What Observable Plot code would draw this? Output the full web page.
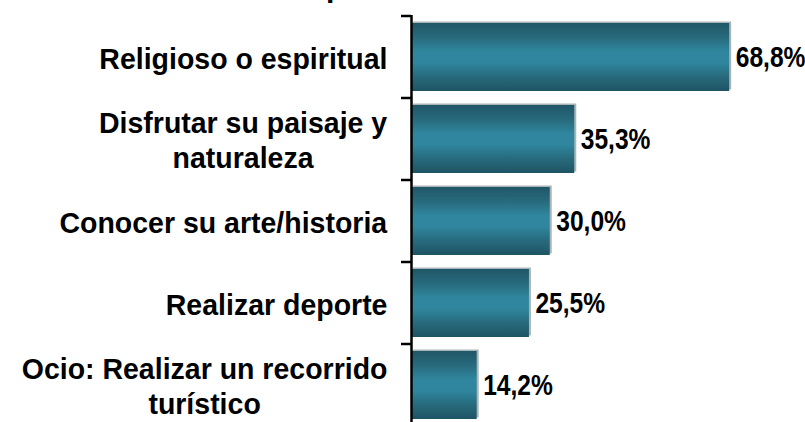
<!DOCTYPE html>
<html><head><meta charset="utf-8">
<script src="https://cdn.jsdelivr.net/npm/d3@7"></script>
<script src="https://cdn.jsdelivr.net/npm/@observablehq/plot@0.6"></script>
<style>
body{margin:0;background:#fff;overflow:hidden}
#wrap{position:relative;width:805px;height:422px;overflow:hidden;background:#fff}
#title{position:absolute;left:326px;top:-28px;font:bold 30px "Liberation Sans",Arial,sans-serif;line-height:30px;white-space:nowrap;color:#000}
#wrap svg{position:absolute;left:0;top:0}
</style></head><body><div id="wrap"><div id="title">p</div></div>
<script>
const categories = ["Religioso o espiritual", "Disfrutar su paisaje y\nnaturaleza", "Conocer su arte/historia", "Realizar deporte", "Ocio: Realizar un recorrido\nturístico"];
const values = [68.8, 35.3, 30.0, 25.5, 14.2];
const valueLabels = ["68,8%", "35,3%", "30,0%", "25,5%", "14,2%"];

const data = categories.map((c, i) => ({cat: c, value: values[i], label: valueLabels[i]}));
const FONT = '"Liberation Sans",Arial,sans-serif';

function gradientDefs() {
  const defs = d3.create("svg:defs");
  const lg = defs.append("linearGradient").attr("id", "barGrad").attr("x1", 0).attr("y1", 0).attr("x2", 0).attr("y2", 1);
  [[0, "#1f5767"], [0.2, "#27697b"], [0.42, "#2f869e"], [0.58, "#2f869e"], [0.8, "#27697b"], [1, "#1e5464"]]
    .forEach(([o, c]) => lg.append("stop").attr("offset", o).attr("stop-color", c));
  return defs.node();
}

function boundaryTicks(index, scales) {
  const y = scales.y, x = scales.x;
  const bw = y.bandwidth ? y.bandwidth() : 0;
  const step = y.step ? y.step() : bw;
  const x0 = x(0);
  const g = d3.create("svg:g");
  for (const c of categories) {
    const yy = y(c) - (step - bw) / 2;
    g.append("line").attr("x1", x0 - 10).attr("x2", x0).attr("y1", yy).attr("y2", yy)
      .attr("stroke", "#000").attr("stroke-width", 2.5);
  }
  return g.node();
}

const plot = Plot.plot({
  width: 805,
  height: 422,
  marginLeft: 411,
  marginRight: 24,
  marginTop: 15,
  marginBottom: 0,
  style: {background: "transparent", overflow: "visible"},
  x: {domain: [0, 80], axis: null},
  y: {type: "band", domain: categories, range: [15, 427.5], paddingInner: 0.17, paddingOuter: 0.085, axis: null},
  marks: [
    gradientDefs,
    Plot.barX(data, {x: "value", y: "cat", fill: "#a9b5b8", dx: 2, dy: -1.5}),
    Plot.barX(data, {x: "value", y: "cat", fill: "url(#barGrad)"}),
    Plot.ruleX([0], {stroke: "#000", strokeWidth: 2.5}),
    boundaryTicks,
    Plot.text(data, {x: "value", y: "cat", text: "label", textAnchor: "start", dx: 6, fontSize: 30, fontWeight: "bold", fontFamily: FONT, fill: "#000", className: "vallab"}),
    Plot.text(data, {y: "cat", text: "cat", frameAnchor: "left", textAnchor: "middle", lineHeight: 35 / 30, fontSize: 30, fontWeight: "bold", fontFamily: FONT, fill: "#000", className: "catlab"})
  ]
});

document.getElementById("wrap").appendChild(plot);

// narrow the value labels (condensed look of the original)
plot.querySelectorAll(".vallab text").forEach(t => {
  t.setAttribute("transform", (t.getAttribute("transform") || "") + " scale(0.82,1)");
});

// right-align each label block while keeping its lines centred
const rightEdge = -24, sx = 0.95;
plot.querySelectorAll(".catlab text").forEach(t => {
  const b = t.getBBox();
  const shift = rightEdge - sx * (b.x + b.width);
  t.setAttribute("transform", (t.getAttribute("transform") || "") + ` translate(${shift},0) scale(${sx},1)`);
});
</script>
</body></html>
